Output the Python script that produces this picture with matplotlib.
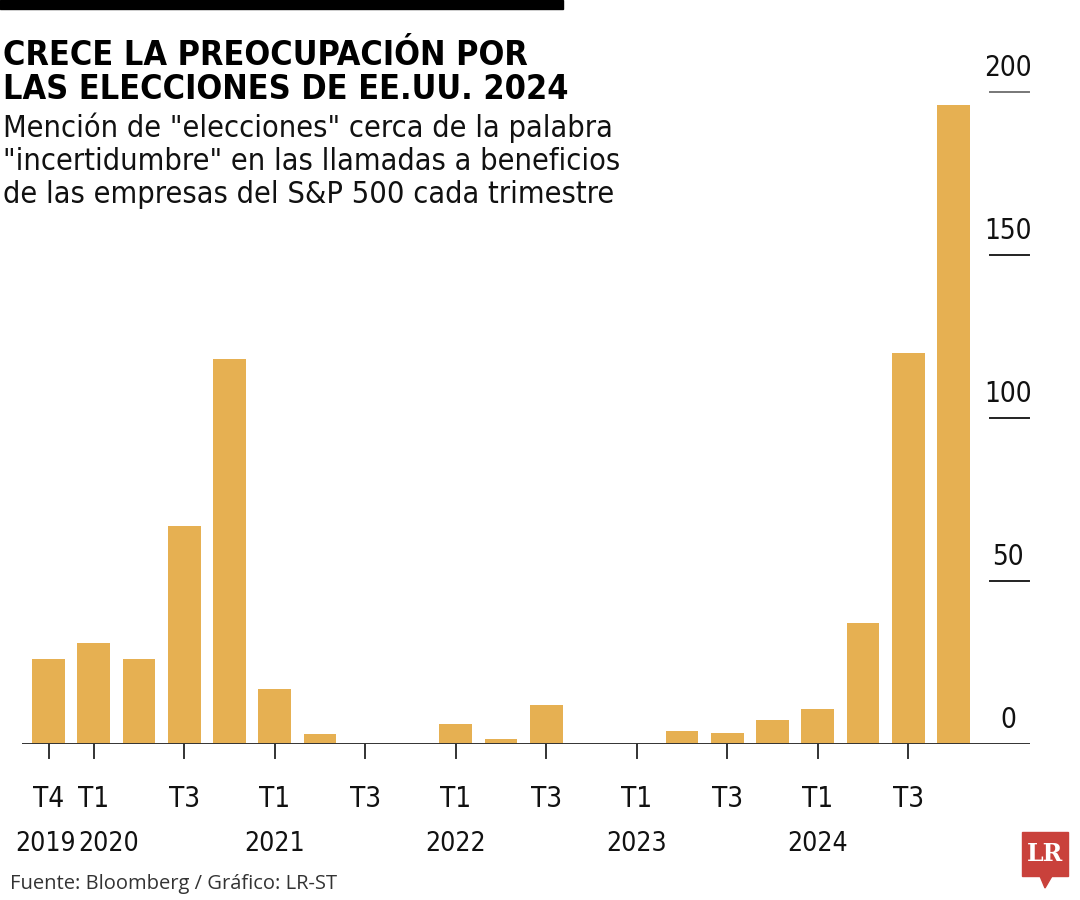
import matplotlib
matplotlib.use("Agg")
import matplotlib.pyplot as plt
from matplotlib.patches import Rectangle, Polygon
from matplotlib.transforms import blended_transform_factory
from matplotlib import font_manager

# quarters from T4 2019 to T4 2024
quarters = ["T4", "T1", "T2", "T3", "T4",
            "T1", "T2", "T3", "T4",
            "T1", "T2", "T3", "T4",
            "T1", "T2", "T3", "T4",
            "T1", "T2", "T3", "T4"]
mentions = [26, 31, 26, 67, 118,
            17, 3, 0, 0,
            6, 1.5, 12, 0,
            0, 4, 3.5, 7.5,
            10.7, 37, 120, 196]
years = ["2019", "2020", "2021", "2022", "2023", "2024"]
year_pos = [0, 1, 5, 9, 13, 17]
labeled = [0, 1, 3, 5, 7, 9, 11, 13, 15, 17, 19]
y_ticks = [0, 50, 100, 150, 200]

BAR = "#E6B052"

# condensed face if there is one
has_cond = any(f.name == "DejaVu Sans" and f.stretch != "normal"
               for f in font_manager.fontManager.ttflist)
FONT = dict(family="DejaVu Sans", fontstretch="condensed" if has_cond else "normal")

fig = plt.figure(figsize=(10.8, 9), dpi=100)
ax = fig.add_axes([22 / 1080, 156 / 900, 1008 / 1080, 652 / 900])

x = list(range(len(mentions)))
ax.bar(x, mentions, width=0.72, color=BAR, zorder=2)
ax.set_xlim(-0.586, 21.69)
ax.set_ylim(0, 200)

for s in ["top", "right", "left", "bottom"]:
    ax.spines[s].set_visible(False)
ax.axhline(0, color="#333333", lw=1.4, zorder=3)
ax.set_yticks([])
ax.set_xticks([])

# quarter ticks and labels
for i in labeled:
    ax.plot([i, i], [0, -4.3], color="#333333", lw=1.4, clip_on=False)
    ax.text(i, -12.5, quarters[i], ha="center", va="top", fontsize=20,
            color="#111111", **FONT)
for p, yr in zip(year_pos, years):
    dx = 11 if yr == "2020" else (-2 if yr == "2019" else 0)
    ax.annotate(yr, (p, -26.8), xytext=(dx, 0), textcoords="offset points",
                ha="center", va="top", fontsize=19, color="#111111",
                annotation_clip=False, **FONT)

# right side value labels
tr = blended_transform_factory(ax.transAxes, ax.transData)
for v in y_ticks:
    if v > 0:
        col = "#777777" if v == 200 else "#222222"
        ax.plot([0.960, 0.999], [v, v], color=col, lw=1.4, transform=tr, clip_on=False)
    ax.text(0.978, v + 3, str(v), transform=tr, ha="center", va="bottom",
            fontsize=20, color="#111111", **FONT)

# header
fig.patches.append(Rectangle((0, 1 - 9 / 900), 563 / 1080, 9 / 900,
                             transform=fig.transFigure, color="black"))
fig.text(3 / 1080, 1 - 65 / 900, "CRECE LA PREOCUPACIÓN POR", fontsize=24.5,
         fontweight="bold", va="baseline", color="black", **FONT)
fig.text(3 / 1080, 1 - 99 / 900, "LAS ELECCIONES DE EE.UU. 2024", fontsize=24.5,
         fontweight="bold", va="baseline", color="black", **FONT)
subtitle = ['Mención de "elecciones" cerca de la palabra',
            '"incertidumbre" en las llamadas a beneficios',
            'de las empresas del S&P 500 cada trimestre']
for k, line in enumerate(subtitle):
    fig.text(3 / 1080, 1 - (137 + 33 * k) / 900, line, fontsize=22,
             va="baseline", color="#111111", **FONT)

fig.text(10 / 1080, 1 - 889 / 900, "Fuente: Bloomberg / Gráfico: LR-ST",
         fontsize=14.5, family="Open Sans", va="baseline", color="#333333")

# LR logo
red = "#C9413B"
fig.patches.append(Rectangle((1022 / 1080, 1 - 876 / 900), 46 / 1080, 44 / 900,
                             transform=fig.transFigure, color=red))
fig.patches.append(Polygon([(1040 / 1080, 1 - 876 / 900), (1052 / 1080, 1 - 876 / 900),
                            (1045 / 1080, 1 - 888 / 900)],
                           transform=fig.transFigure, color=red))
fig.text(1045 / 1080, 1 - 854 / 900, "LR", fontsize=17, fontweight="bold",
         family="DejaVu Serif", color="white", ha="center", va="center")

fig.savefig("out.png", dpi=100)
